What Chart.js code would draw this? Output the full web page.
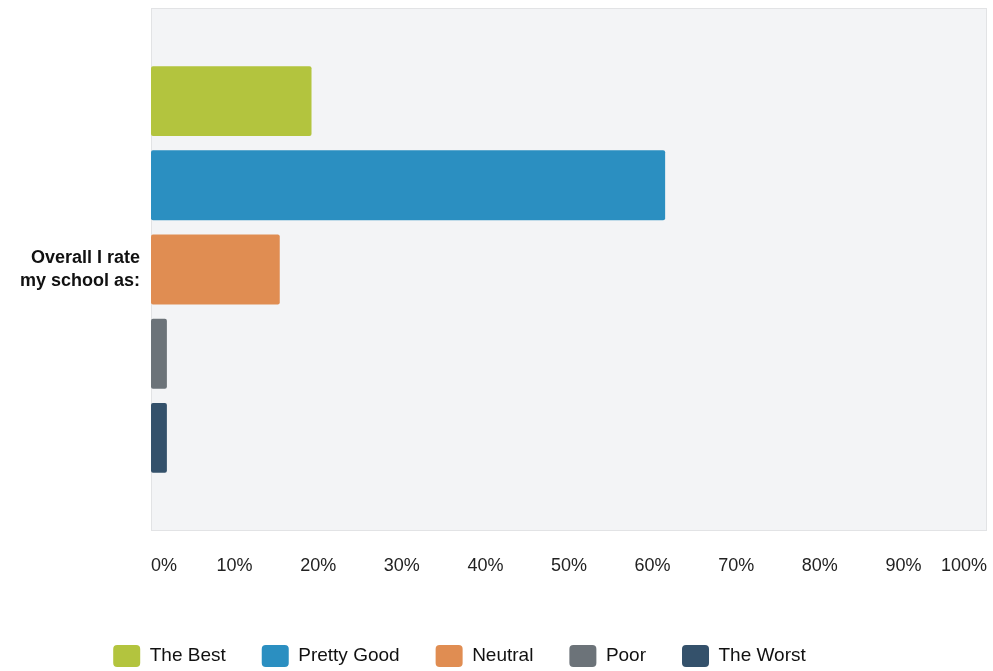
<!DOCTYPE html>
<html>
<head>
<meta charset="utf-8">
<script src="https://cdn.jsdelivr.net/npm/chart.js@4/dist/chart.umd.min.js"></script>
<style>
  html, body { margin: 0; padding: 0; background: #fff; }
  #wrap { width: 993px; height: 671px; position: relative; }
</style>
</head>
<body>
<div id="wrap"><canvas id="chart"></canvas></div>
<script>
const question = [['Overall I rate', 'my school as:']];
const answers = ['The Best', 'Pretty Good', 'Neutral', 'Poor', 'The Worst'];
const percents = [19.2, 61.5, 15.4, 1.9, 1.9];
const colors = ['#b3c43e', '#2b8fc1', '#e08d52', '#6c7379', '#34516b'];
const tickValues = [0, 10, 20, 30, 40, 50, 60, 70, 80, 90, 100];

// light panel behind the plot, like the survey export
const plotBackground = {
    id: 'plotBackground',
    beforeDraw(chart) {
        const { ctx, chartArea: a } = chart;
        ctx.save();
        ctx.fillStyle = '#f3f4f6';
        ctx.fillRect(a.left, a.top, a.right - a.left, a.bottom - a.top);
        ctx.strokeStyle = '#e2e3e5';
        ctx.lineWidth = 1;
        ctx.strokeRect(a.left + 0.5, a.top + 0.5, a.right - a.left - 1, a.bottom - a.top - 1);
        ctx.restore();
    }
};

// the original legend sits a little left of centre
const legendShift = {
    id: 'legendShift',
    afterLayout(chart) {
        if (chart.legend) {
            chart.legend.left -= 34;
            chart.legend.right -= 34;
        }
    }
};

const datasets = answers.map((name, i) => ({
    label: name,
    data: [percents[i]],
    backgroundColor: colors[i],
    borderRadius: 2,
    borderSkipped: false,
    barPercentage: 0.83,
    categoryPercentage: 0.805
}));

new Chart(document.getElementById('chart'), {
    type: 'bar',
    data: { labels: question, datasets: datasets },
    plugins: [plotBackground, legendShift],
    options: {
        indexAxis: 'y',
        responsive: true,
        maintainAspectRatio: false,
        animation: false,
        layout: { padding: { top: 8, right: 6, bottom: -6, left: 0 } },
        scales: {
            x: {
                min: 0,
                max: 100,
                afterBuildTicks(scale) {
                    scale.ticks = tickValues.map(v => ({ value: v }));
                },
                afterFit(scale) {
                    scale.height = 78;
                    scale.paddingLeft = 0;
                    scale.paddingRight = 0;
                },
                grid: { display: false, drawTicks: false },
                border: { display: false },
                ticks: {
                    align: 'inner',
                    padding: 24,
                    color: '#222',
                    font: { family: 'Liberation Sans, Arial, sans-serif', size: 18 },
                    callback: v => v + '%'
                }
            },
            y: {
                afterFit(scale) {
                    scale.width = 151;
                    scale.paddingTop = 0;
                    scale.paddingBottom = 0;
                },
                grid: { display: false, drawTicks: false },
                border: { display: false },
                ticks: {
                    padding: 11,
                    color: '#111',
                    font: { family: 'Liberation Sans, Arial, sans-serif', size: 18, weight: 'bold', lineHeight: 1.25 }
                }
            }
        },
        plugins: {
            legend: {
                position: 'bottom',
                labels: {
                    boxWidth: 27,
                    boxHeight: 22,
                    useBorderRadius: true,
                    borderRadius: 4,
                    padding: 36,
                    color: '#111',
                    font: { family: 'Liberation Sans, Arial, sans-serif', size: 19 }
                }
            },
            tooltip: { enabled: false }
        }
    }
});
</script>
</body>
</html>
